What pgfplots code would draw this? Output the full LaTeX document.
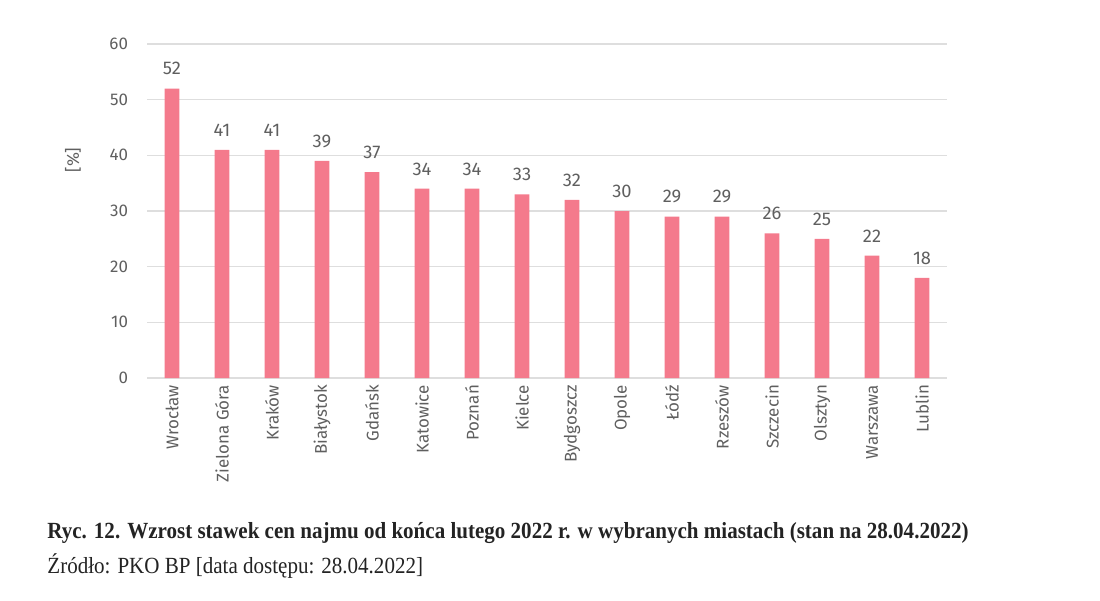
\documentclass[border=0pt]{standalone}
\usepackage{fontspec}
\setmainfont{Fira Sans}
\newfontfamily\capfont[FakeStretch=0.91]{Liberation Serif}
\usepackage{pgfplots}
\pgfplotsset{compat=1.18}
\definecolor{barc}{RGB}{244,122,140}
\definecolor{tickc}{RGB}{95,95,95}
\definecolor{gridc}{RGB}{222,222,222}
\definecolor{capc}{RGB}{35,35,35}
\begin{document}
\begin{tikzpicture}[x=1bp,y=1bp]
\path[use as bounding box] (0,0) rectangle (550,300);
\begin{axis}[
  at={(73.5bp,111bp)}, anchor=south west,
  scale only axis, width=400bp, height=167bp,
  ymin=0, ymax=60, xmin=-0.5, xmax=15.5,
  ytick={0,10,...,60},
  xtick=data,
  xticklabels={Wrocław,Zielona Góra,Kraków,Białystok,Gdańsk,Katowice,Poznań,Kielce,Bydgoszcz,Opole,Łódź,Rzeszów,Szczecin,Olsztyn,Warszawa,Lublin},
  axis line style={draw=none},
  major tick length=0pt,
  ymajorgrids, grid style={gridc, line width=0.6bp},
  /pgf/number format/assume math mode=true,
  tick label style={font=\fontsize{8.5}{10}\selectfont, color=tickc},
  yticklabel style={xshift=-6bp},
  x tick label style={rotate=90, anchor=east},
  ybar, bar width=7.3bp,
  nodes near coords,
  nodes near coords style={font=\fontsize{9.2}{11}\selectfont, color=tickc, yshift=3.2bp},
]
\addplot[fill=barc, draw=none] coordinates {
(0,52) (1,41) (2,41) (3,39) (4,37) (5,34) (6,34) (7,33) (8,32) (9,30) (10,29) (11,29) (12,26) (13,25) (14,22) (15,18)};
\end{axis}
\node[rotate=90, font=\fontsize{8.5}{10}\selectfont, color=tickc] at (36.5,220) {[\%]};
\node[anchor=base west, inner sep=0, font=\capfont\bfseries\fontsize{11.6}{13}\selectfont, color=capc] at (23.5,31) {Ryc. 12. Wzrost stawek cen najmu od końca lutego 2022 r. w wybranych miastach (stan na 28.04.2022)};
\node[anchor=base west, inner sep=0, font=\capfont\fontsize{11.6}{13}\selectfont, color=capc] at (23.5,13.5) {Źródło: PKO BP [data dostępu: 28.04.2022]};
\end{tikzpicture}
\end{document}
